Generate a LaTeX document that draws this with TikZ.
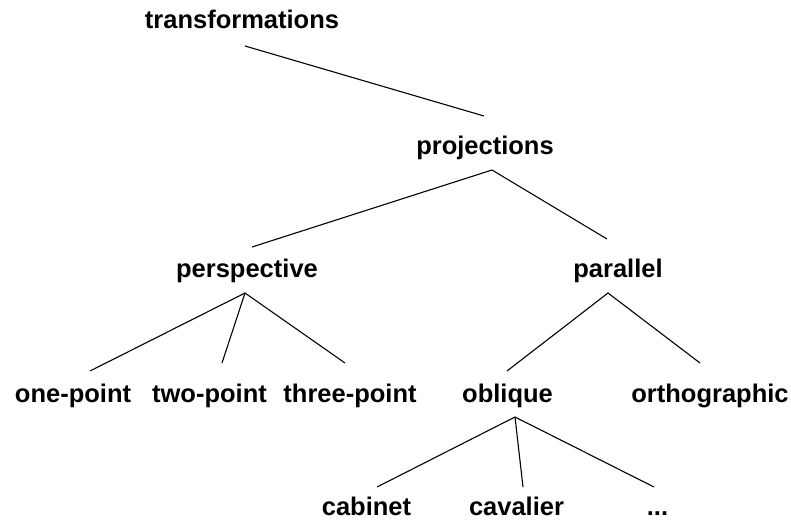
\documentclass[tikz,border=0pt]{standalone}
\usepackage{fontspec}
\setmainfont{Liberation Sans}
\begin{document}
\begin{tikzpicture}[x=1pt,y=-1pt,
  lbl/.style={anchor=base,inner sep=0pt,font=\fontsize{25.5}{30}\selectfont\bfseries},
  edge/.style={draw=black,line width=1.1pt}]
\useasboundingbox (0,0) rectangle (791,519);
% labels
\node[lbl] (trans) at (242,29) {transformations};
\node[lbl] (proj) at (485,154) {projections};
\node[lbl] (persp) at (247,277) {perspective};
\node[lbl] (para) at (618,277) {parallel};
\node[lbl] (one) at (73,402) {one-point};
\node[lbl] (two) at (209.5,402) {two-point};
\node[lbl] (three) at (350,402) {three-point};
\node[lbl] (obl) at (507.5,402) {oblique};
\node[lbl] (ortho) at (710,402) {orthographic};
\node[lbl] (cab) at (366.5,515) {cabinet};
\node[lbl] (cav) at (516.5,515) {cavalier};
\node[lbl] (dots) at (657.5,515) {...};
% connector ends
\coordinate (trans-b) at (245,46);
\coordinate (proj-t) at (484,116);
\coordinate (proj-b) at (492,170);
\coordinate (persp-t) at (252,247);
\coordinate (para-t) at (607,239);
\coordinate (persp-b) at (245,293);
\coordinate (one-t) at (90,371);
\coordinate (two-t) at (222,363);
\coordinate (three-t) at (345,363);
\coordinate (para-b) at (608,293);
\coordinate (obl-t) at (507,371);
\coordinate (ortho-t) at (700,363);
\coordinate (obl-b) at (515,417);
\coordinate (cab-t) at (377,487);
\coordinate (cav-t) at (523,487);
\coordinate (dots-t) at (654,487);
% connectors
\draw[edge] (trans-b) -- (proj-t);
\draw[edge] (persp-t) -- (proj-b) -- (para-t);
\draw[edge] (one-t) -- (persp-b) -- (three-t);
\draw[edge] (persp-b) -- (two-t);
\draw[edge] (obl-t) -- (para-b) -- (ortho-t);
\draw[edge] (cab-t) -- (obl-b) -- (dots-t);
\draw[edge] (obl-b) -- (cav-t);
\end{tikzpicture}
\end{document}
